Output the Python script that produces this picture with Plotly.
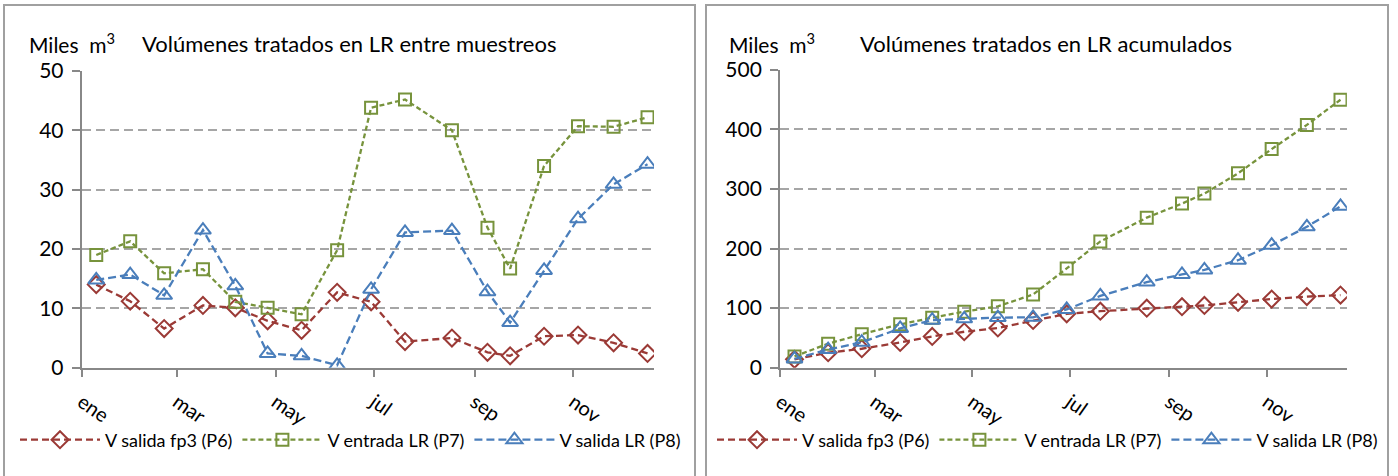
import plotly.graph_objects as go

# ---------------- data ----------------
fechas = ["2013-01-10", "2013-01-31", "2013-02-21", "2013-03-17", "2013-04-06",
          "2013-04-26", "2013-05-17", "2013-06-08", "2013-06-29", "2013-07-20",
          "2013-08-18", "2013-09-09", "2013-09-23", "2013-10-14", "2013-11-04",
          "2013-11-26", "2013-12-17"]

series_names = ["V salida fp3 (P6)", "V entrada LR (P7)", "V salida LR (P8)"]

p6 = [14.0, 11.2, 6.6, 10.5, 10.1, 7.9, 6.3, 12.7, 11.1, 4.4, 5.0, 2.6, 2.0, 5.3, 5.5, 4.2, 2.4]
p7 = [19.0, 21.3, 15.9, 16.6, 11.1, 10.1, 9.0, 19.8, 43.8, 45.2, 40.0, 23.6, 16.7, 34.0, 40.7, 40.6, 42.2]
p8 = [14.8, 15.7, 12.2, 23.2, 13.8, 2.4, 2.0, 0.4, 13.2, 22.8, 23.1, 12.8, 7.6, 16.4, 25.1, 30.9, 34.3]

p6_acum = [14.0, 25.2, 31.8, 42.3, 52.4, 60.3, 66.6, 79.3, 90.4, 94.8, 99.8, 102.4, 104.4, 109.7, 115.2, 119.4, 121.8]
p7_acum = [19.0, 40.3, 56.2, 72.8, 83.9, 94.0, 103.0, 122.8, 166.6, 211.8, 251.8, 275.4, 292.1, 326.1, 366.8, 407.4, 449.6]
p8_acum = [14.8, 30.5, 42.7, 65.9, 79.7, 82.1, 84.1, 84.5, 97.7, 120.5, 143.6, 156.4, 164.0, 180.4, 205.5, 236.4, 270.7]

tick_dates = ["2013-01-01", "2013-03-01", "2013-05-01", "2013-07-01", "2013-09-01", "2013-11-01"]
tick_labels = ["ene", "mar", "may", "jul", "sep", "nov"]

titles = ["Volúmenes tratados en LR entre muestreos", "Volúmenes tratados en LR acumulados"]
unit_label = "Miles  m<sup>3</sup>"

# ---------------- style ----------------
W, H = 1398, 476
FONT = "Lato"
colors = ["#9B3A36", "#77933C", "#4A7EBB"]
symbols = ["diamond-open", "square-open", "triangle-up-open"]
sizes = [13, 12, 14]
dashes = ["7px,4px", "5px,3px", "8px,4px"]
AXIS_COL = "#888888"
GRID_COL = "#A6A6A6"

def px_x(p):
    return p / W

def px_y(p):
    return 1 - p / H

fig = go.Figure()

left_sets = [p6, p7, p8]
right_sets = [p6_acum, p7_acum, p8_acum]

for i, (name, vals) in enumerate(zip(series_names, left_sets)):
    fig.add_trace(go.Scatter(
        x=fechas, y=vals, name=name, mode="lines+markers",
        xaxis="x", yaxis="y", legend="legend",
        line=dict(color=colors[i], width=2.3, dash=dashes[i]),
        marker=dict(symbol=symbols[i], size=sizes[i], color=colors[i],
                    line=dict(width=2, color=colors[i])),
    ))

for i, (name, vals) in enumerate(zip(series_names, right_sets)):
    fig.add_trace(go.Scatter(
        x=fechas, y=vals, name=name, mode="lines+markers",
        xaxis="x2", yaxis="y2", legend="legend2",
        line=dict(color=colors[i], width=2.3, dash=dashes[i]),
        marker=dict(symbol=symbols[i], size=sizes[i], color=colors[i],
                    line=dict(width=2, color=colors[i])),
    ))

xaxis_common = dict(
    type="date", range=["2013-01-01", "2013-12-21"],
    tickmode="array", tickvals=tick_dates, ticktext=tick_labels,
    tickangle=35, ticks="outside", ticklen=7, tickwidth=1.5, tickcolor=AXIS_COL,
    showline=True, linecolor=AXIS_COL, linewidth=2, showgrid=False, zeroline=False,
    tickfont=dict(family=FONT, size=20, color="#000000"),
    ticklabelstandoff=6, automargin=False, fixedrange=True,
)
yaxis_common = dict(
    ticks="outside", ticklen=8, tickwidth=1.5, tickcolor=AXIS_COL,
    showline=True, linecolor=AXIS_COL, linewidth=2,
    showgrid=True, gridcolor=GRID_COL, gridwidth=2, griddash="9px,5px",
    zeroline=False, tickfont=dict(family=FONT, size=21, color="#000000"),
    ticklabelstandoff=4, automargin=False, fixedrange=True,
)

legend_common = dict(
    orientation="h", xanchor="left", yanchor="middle",
    font=dict(family=FONT, size=18, color="#000000"),
    itemwidth=80, bgcolor="rgba(0,0,0,0)",
    itemclick=False, itemdoubleclick=False,
)

fig.update_layout(
    width=W, height=H,
    margin=dict(l=0, r=0, t=0, b=0, autoexpand=False),
    paper_bgcolor="white", plot_bgcolor="white",
    template="none",
    font=dict(family=FONT, color="#000000"),
    xaxis=dict(domain=[px_x(81.7), px_x(654)], anchor="y", **xaxis_common),
    yaxis=dict(domain=[px_y(367.7), px_y(71)], anchor="x", range=[0, 50],
               tickvals=[0, 10, 20, 30, 40, 50], **yaxis_common),
    xaxis2=dict(domain=[px_x(780.1), px_x(1346.9)], anchor="y2", **xaxis_common),
    yaxis2=dict(domain=[px_y(367.7), px_y(69.7)], anchor="x2", range=[0, 500],
                tickvals=[0, 100, 200, 300, 400, 500], **yaxis_common),
    legend=dict(x=px_x(15), y=px_y(440), **legend_common),
    legend2=dict(x=px_x(712), y=px_y(440), **legend_common),
    showlegend=True,
)

# Panel borders
for x0, x1 in [(4, 695), (706, 1388)]:
    fig.add_shape(type="rect", xref="paper", yref="paper",
                  x0=px_x(x0), x1=px_x(x1), y0=px_y(490), y1=px_y(5),
                  line=dict(color="#A0A0A0", width=2), fillcolor="rgba(0,0,0,0)", layer="below")

# Titles and unit labels
for ux, tx, t in [(27, 140, titles[0]), (727, 858, titles[1])]:
    fig.add_annotation(text=unit_label, xref="paper", yref="paper", x=px_x(ux), y=px_y(43),
                       xanchor="left", yanchor="middle", showarrow=False,
                       font=dict(family=FONT, size=21, color="#000000"))
    fig.add_annotation(text=t, xref="paper", yref="paper", x=px_x(tx), y=px_y(43),
                       xanchor="left", yanchor="middle", showarrow=False,
                       font=dict(family=FONT, size=22, color="#000000"))

fig.write_html("out.html", config={"displayModeBar": False})
